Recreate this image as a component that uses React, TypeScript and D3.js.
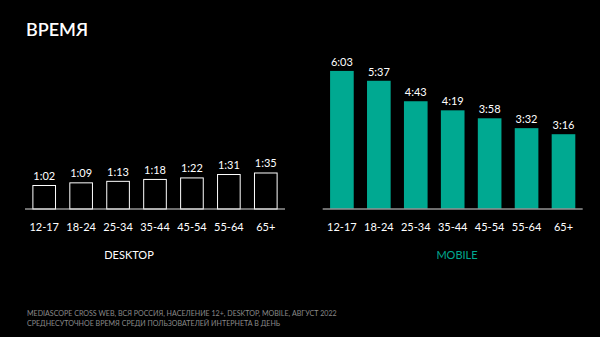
import React from "react";
import * as d3 from "d3";

const categories = ["12-17", "18-24", "25-34", "35-44", "45-54", "55-64", "65+"];
const desktopLabels = ["1:02", "1:09", "1:13", "1:18", "1:22", "1:31", "1:35"];
const mobileLabels = ["6:03", "5:37", "4:43", "4:19", "3:58", "3:32", "3:16"];

const toMin = (s: string) => {
  const [h, m] = s.split(":").map(Number);
  return h * 60 + m;
};
const desktopValues = desktopLabels.map(toMin);
const mobileValues = mobileLabels.map(toMin);

const W = 600;
const H = 337;
const FONT = "Lato, 'Open Sans', sans-serif";
const TEAL = "#00a991";

const y = d3.scaleLinear().domain([0, 400]).range([208.5, 208.5 - 151.6]);

function Panel({ x0, x1, values, labels, fill, stroke, title, titleX, titleColor }: any) {
  const x = d3.scaleBand<string>().domain(categories).range([x0, x1]).paddingInner(0.36).paddingOuter(0.2);
  return (
    <g>
      {categories.map((c, i) => (
        <g key={c}>
          <rect
            x={x(c)! + (stroke ? 0.5 : 0)}
            y={y(values[i]) + (stroke ? 0.5 : 0)}
            width={x.bandwidth() - (stroke ? 1 : 0)}
            height={y(0) - y(values[i])}
            fill={fill}
            stroke={stroke || "none"}
            strokeWidth={1}
          />
          <text x={x(c)! + x.bandwidth() / 2} y={y(values[i]) - 5} textAnchor="middle" fill="#fff" fontSize={11} fontFamily={FONT}>
            {labels[i]}
          </text>
          <text x={x(c)! + x.bandwidth() / 2} y={231} textAnchor="middle" fill="#fff" fontSize={11} fontFamily={FONT}>
            {c}
          </text>
        </g>
      ))}
      <line x1={x0} x2={x1} y1={y(0) + 0.5} y2={y(0) + 0.5} stroke="#ddd" strokeWidth={1} />
      <text x={titleX} y={259} textAnchor="middle" fill={titleColor} fontSize={11} fontFamily={FONT}>
        {title}
      </text>
    </g>
  );
}

export default function App() {
  return (
    <svg width={W} height={H} style={{ position: "absolute", left: 0, top: 0, background: "#000" }}>
      <rect width={W} height={H} fill="#000" />
      <text x={26} y={36} fill="#fff" fontSize={18} fontWeight={600} fontFamily={FONT}>
        ВРЕМЯ
      </text>
      <Panel x0={25} x1={285} values={desktopValues} labels={desktopLabels} fill="#000" stroke="#fff" title="DESKTOP" titleX={129} titleColor="#fff" />
      <Panel x0={322.7} x1={582.7} values={mobileValues} labels={mobileLabels} fill={TEAL} title="MOBILE" titleX={457} titleColor={TEAL} />
      <text x={27} y={316} fill="#8a8a8a" fontSize={7.1} fontFamily={FONT}>
        MEDIASCOPE CROSS WEB, ВСЯ РОССИЯ, НАСЕЛЕНИЕ 12+, DESKTOP, MOBILE, АВГУСТ 2022
      </text>
      <text x={27} y={326} fill="#8a8a8a" fontSize={7.1} fontFamily={FONT}>
        СРЕДНЕСУТОЧНОЕ ВРЕМЯ СРЕДИ ПОЛЬЗОВАТЕЛЕЙ ИНТЕРНЕТА В ДЕНЬ
      </text>
    </svg>
  );
}
